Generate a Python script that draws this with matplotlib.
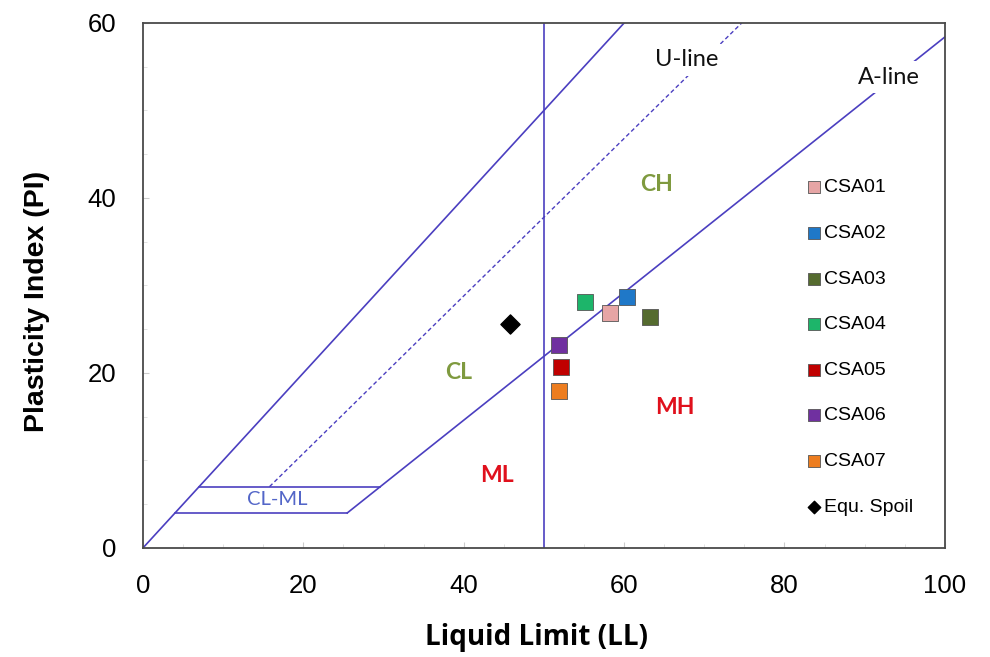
import matplotlib.pyplot as plt
import numpy as np

# Sample data (LL, PI)
samples = ['CSA01', 'CSA02', 'CSA03', 'CSA04', 'CSA05', 'CSA06', 'CSA07']
sample_ll = [58.2, 60.3, 63.2, 55.1, 52.1, 51.9, 51.9]
sample_pi = [26.9, 28.7, 26.4, 28.1, 20.7, 23.2, 17.9]
sample_colors = ['#E6A5A5', '#1F78C8', '#556B2F', '#1DB56A', '#C00000', '#7030A0', '#ED7D1F']

spoil_label = 'Equ. Spoil'
spoil_ll = [45.8]
spoil_pi = [25.6]

line_col = '#4B3FC0'


def plasticity_chart():
    fig = plt.figure(figsize=(9.9, 6.57), dpi=100)
    ax = fig.add_axes([0.1444, 0.166, 0.810, 0.799])

    # A-line: PI = 0.73 (LL - 20), starting at PI = 4
    ll_a = np.array([25.48, 100])
    ax.plot(ll_a, 0.73 * (ll_a - 20), color=line_col, lw=1.2, zorder=2)
    # U-line (dashed): PI = 0.9 (LL - 8), starting at PI = 7
    ll_u = np.array([15.78, 74.67])
    ax.plot(ll_u, 0.9 * (ll_u - 8), color=line_col, lw=1.0, ls=(0, (3, 2)), zorder=2)
    # upper boundary PI = LL
    ax.plot([0, 60], [0, 60], color=line_col, lw=1.2, zorder=2)
    # LL = 50
    ax.plot([50, 50], [0, 60], color=line_col, lw=1.2, zorder=2)
    # CL-ML zone
    ax.plot([4, 25.48], [4, 4], color=line_col, lw=1.2, zorder=2)
    ax.plot([7, 29.59], [7, 7], color=line_col, lw=1.2, zorder=2)

    # zone labels
    lab = dict(fontfamily='Lato', fontweight='bold', fontsize=16.5, ha='center', va='center', zorder=3)
    ax.text(64.1, 41.5, 'CH', color='#7F9A3F', **lab)
    ax.text(39.4, 20.1, 'CL', color='#7F9A3F', **lab)
    ax.text(66.3, 16.0, 'MH', color='#E0101C', **lab)
    ax.text(44.1, 8.3, 'ML', color='#E0101C', **lab)
    ax.text(16.7, 5.5, 'CL-ML', color='#5366C8', fontfamily='Lato', fontsize=14.5,
            ha='center', va='center', zorder=3)
    box = dict(facecolor='white', edgecolor='none', pad=4)
    ax.text(67.8, 55.8, 'U-line', color='#111111', fontfamily='Lato', fontsize=17,
            ha='center', va='center', bbox=box, zorder=3)
    ax.text(93.0, 53.8, 'A-line', color='#111111', fontfamily='Lato', fontsize=17,
            ha='center', va='center', bbox=box, zorder=3)

    for name, x, y, c in zip(samples, sample_ll, sample_pi, sample_colors):
        ax.scatter(x, y, marker='s', s=117, color=c, edgecolors='#555555', linewidths=0.6,
                   label=name, zorder=4)
    ax.scatter(spoil_ll, spoil_pi, marker='D', s=95, color='black', label=spoil_label, zorder=4)

    ax.set_xlim(0, 100)
    ax.set_ylim(0, 60)
    ax.set_xticks(np.arange(0, 101, 20))
    ax.set_yticks(np.arange(0, 61, 20))
    ax.set_xticks(np.arange(0, 101, 5), minor=True)
    ax.set_yticks(np.arange(0, 61, 5), minor=True)
    ax.tick_params(which='major', direction='in', length=4, color='#cccccc', labelsize=18.5, pad=19)
    ax.tick_params(which='minor', direction='in', length=3, color='#dddddd')
    for lbl in ax.get_xticklabels() + ax.get_yticklabels():
        lbl.set_fontfamily('Liberation Sans')
    for s in ax.spines.values():
        s.set_color('#4a4a4a')
        s.set_linewidth(1.3)

    ax.set_xlabel('Liquid Limit (LL)', fontfamily='Open Sans', fontweight='bold', fontsize=20, va='center')
    ax.set_ylabel('Plasticity Index (PI)', fontfamily='Liberation Sans', fontweight='bold', fontsize=20.5, va='center')
    ax.xaxis.set_label_coords(0.491, -0.170)
    ax.yaxis.set_label_coords(-0.132, 0.47)

    leg = ax.legend(loc='upper left', bbox_to_anchor=(0.815, 0.718), frameon=False,
                    prop={'family': 'Liberation Sans', 'size': 14}, labelspacing=1.44,
                    handletextpad=0.0, handlelength=1.0, markerscale=0.74, borderaxespad=0)
    leg.set_zorder(5)
    leg.legend_handles[-1].set_sizes([40])

    plt.savefig('out.png', dpi=100)


if __name__ == '__main__':
    plasticity_chart()
